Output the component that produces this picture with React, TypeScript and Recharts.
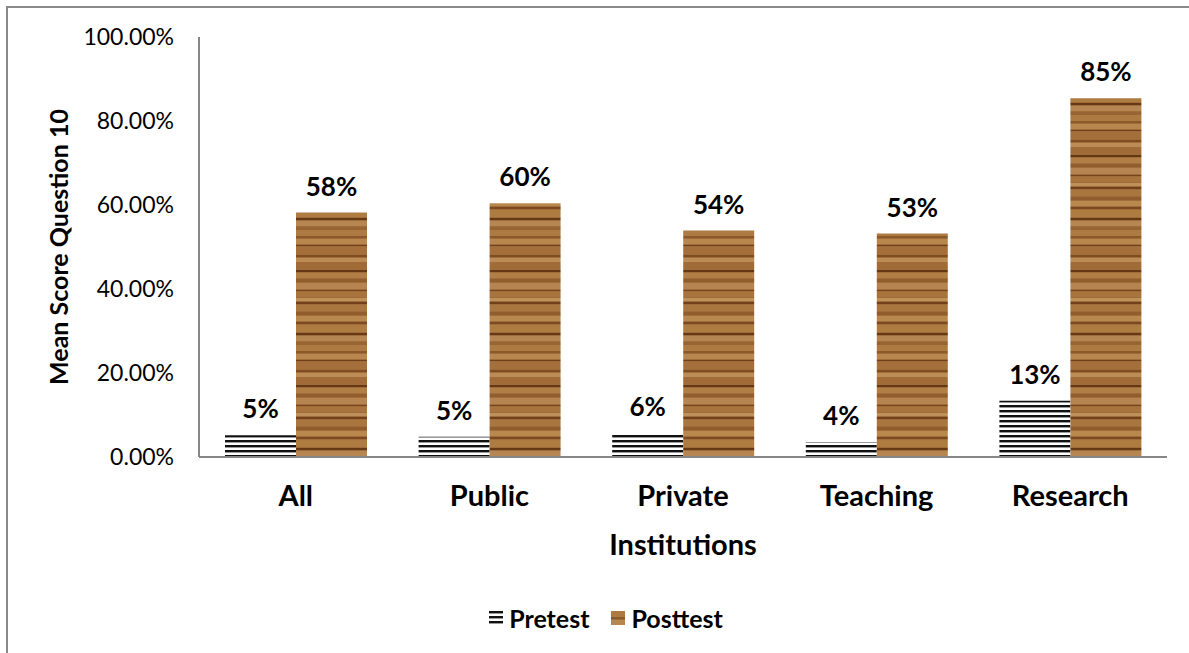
import { Bar, BarChart, LabelList, XAxis, YAxis } from "recharts"

const categories = ["All", "Public", "Private", "Teaching", "Research"]
const pretest = [0.052, 0.048, 0.057, 0.036, 0.134]
const posttest = [0.582, 0.604, 0.539, 0.532, 0.854]
const yTicks = [0, 0.2, 0.4, 0.6, 0.8, 1]

const data = categories.map((name, i) => ({ name, pretest: pretest[i], posttest: posttest[i] }))

const FONT = "Lato, 'Open Sans', sans-serif"
const AXIS_GREY = "#878787"

// wood grain streaks: [y, height, colour]
const woodGrain: [number, number, string][] = [
    [0, 6, "#ad7a42"], [6, 2, "#8c5a2a"], [9, 5, "#b8874f"], [15, 1, "#6f401b"],
    [17, 7, "#a56f3b"], [25, 2, "#7f4d22"], [28, 4, "#bb8c56"], [33, 6, "#a06b37"],
    [40, 2, "#643814"], [43, 5, "#b17e46"], [49, 3, "#925e2d"], [53, 6, "#b58450"],
    [60, 1, "#764520"], [62, 5, "#a8733d"], [68, 3, "#be915b"], [72, 2, "#70411b"],
    [75, 6, "#aa7640"], [82, 3, "#915d2c"], [86, 5, "#b9884f"], [92, 2, "#7c4a21"],
    [95, 7, "#ae7b40"], [103, 2, "#653915"], [106, 5, "#b58552"], [112, 3, "#996433"],
]

const pct = (v: number) => `${Math.round(v * 100)}%`

function YTitle(props: any) {
    const { viewBox } = props
    const cy = viewBox.y + viewBox.height / 2
    const cx = 58
    return (
        <text
            x={cx}
            y={cy}
            transform={`rotate(-90 ${cx} ${cy})`}
            textAnchor="middle"
            dominantBaseline="central"
            fontFamily={FONT}
            fontWeight={700}
            fontSize={25}
            fill="#000"
        >
            Mean Score Question 10
        </text>
    )
}

function LegendBox() {
    return (
        <div style={{ position: "absolute", left: 0, top: 603, width: 1212, display: "flex", justifyContent: "center", alignItems: "center", fontFamily: FONT, fontWeight: 700, fontSize: 25, color: "#000" }}>
            <svg width={14} height={14} style={{ marginRight: 6 }}>
                <rect width={14} height={14} fill="url(#stripes)" />
            </svg>
            <span style={{ marginRight: 22 }}>Pretest</span>
            <svg width={14} height={14} style={{ marginRight: 6 }}>
                <rect width={14} height={14} fill="url(#wood)" />
            </svg>
            <span>Posttest</span>
        </div>
    )
}

const labelStyle = { fontFamily: FONT, fontWeight: 700, fontSize: 26, fill: "#000" }

export default function App() {
    return (
        <div style={{ position: "absolute", left: 0, top: 0, width: 1189, height: 653, background: "#fff", overflow: "hidden" }}>
            <div style={{ position: "absolute", left: 6, top: 6, width: 1200, height: 700, borderLeft: "2px solid #8a8a8a", borderTop: "2px solid #8a8a8a" }} />
            <BarChart
                width={1189}
                height={653}
                data={data}
                margin={{ top: 37, right: 22, bottom: 166, left: 0 }}
                barGap={0}
                barCategoryGap={26}
                style={{ position: "absolute", left: 0, top: 0 }}
            >
                <defs>
                    <pattern id="stripes" patternUnits="userSpaceOnUse" width={8} height={5}>
                        <rect width={8} height={5} fill="#fff" />
                        <rect y={0} width={8} height={2} fill="#111" />
                        <rect y={2} width={8} height={1} fill="#9a9a9a" />
                    </pattern>
                    <pattern id="wood" patternUnits="userSpaceOnUse" width={1189} height={115}>
                        <rect width={1189} height={115} fill="#a06c3a" />
                        {woodGrain.map(([y, h, c], i) => (
                            <rect key={i} y={y} width={1189} height={h} fill={c} />
                        ))}
                    </pattern>
                </defs>
                <XAxis
                    dataKey="name"
                    height={30}
                    axisLine={{ stroke: AXIS_GREY, strokeWidth: 2 }}
                    tickLine={false}
                    tickSize={0}
                    tickMargin={28}
                    tick={{ fontFamily: FONT, fontWeight: 700, fontSize: 29, fill: "#000" }}
                    label={{ value: "Institutions", position: "insideBottom", offset: -68, fontFamily: FONT, fontWeight: 700, fontSize: 29, fill: "#000" }}
                />
                <YAxis
                    width={199}
                    domain={[0, 1]}
                    ticks={yTicks}
                    interval={0}
                    axisLine={{ stroke: AXIS_GREY, strokeWidth: 2 }}
                    tickLine={false}
                    tickSize={0}
                    tickMargin={25}
                    tickFormatter={(v: number) => `${(v * 100).toFixed(2)}%`}
                    tick={{ fontFamily: FONT, fontSize: 23, fill: "#000" }}
                    label={<YTitle />}
                />
                <Bar dataKey="pretest" name="Pretest" fill="url(#stripes)" isAnimationActive={false}>
                    <LabelList dataKey="pretest" position="top" offset={17} formatter={(v: any) => pct(v)} style={labelStyle} />
                </Bar>
                <Bar dataKey="posttest" name="Posttest" fill="url(#wood)" isAnimationActive={false}>
                    <LabelList dataKey="posttest" position="top" offset={17} formatter={(v: any) => pct(v)} style={labelStyle} />
                </Bar>
            </BarChart>
            <LegendBox />
        </div>
    )
}
